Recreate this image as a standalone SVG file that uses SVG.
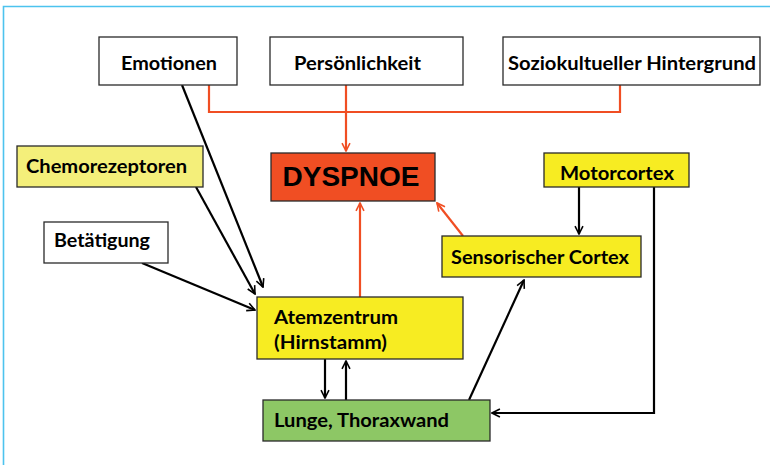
<svg xmlns="http://www.w3.org/2000/svg" width="770" height="465" viewBox="0 0 770 465">
<defs>
<style>
.box{stroke:#2a2a2a;stroke-width:1.3}
.w{fill:#ffffff}
.y{fill:#f7ec22}
.ly{fill:#f4ef7a}
.r{fill:#f04e23}
.g{fill:#8dc765}
.t{font-family:Lato,"Open Sans","Liberation Sans",sans-serif;font-weight:700;font-size:19.5px;fill:#000}
.big{font-family:"Liberation Sans",Arial,sans-serif;font-weight:700;font-size:28px;fill:#000}
.k{stroke:#000;stroke-width:2.2;fill:none}
.o{stroke:#f04e23;stroke-width:2.2;fill:none}
</style>
<marker id="ak" viewBox="0 0 10 10" refX="9" refY="5" markerWidth="4.5" markerHeight="4.5" orient="auto" markerUnits="strokeWidth">
<path d="M1,1 L9,5 L1,9" fill="none" stroke="#000" stroke-width="1.6"/>
</marker>
<marker id="ao" viewBox="0 0 10 10" refX="9" refY="5" markerWidth="4.5" markerHeight="4.5" orient="auto" markerUnits="strokeWidth">
<path d="M1,1 L9,5 L1,9" fill="none" stroke="#f04e23" stroke-width="1.6"/>
</marker>
</defs>
<rect x="0" y="0" width="770" height="465" fill="#ffffff"/>
<path d="M3.5,470 V6.5 H775" fill="none" stroke="#4dc3ee" stroke-width="1.6"/>

<g id="connectors">
<path class="o" d="M209,85 V112 H620 V85"/>
<path class="o" d="M346,85 V151" marker-end="url(#ao)"/>
<path class="o" d="M360,297 V203" marker-end="url(#ao)"/>
<path class="o" d="M463,236 L437,203" marker-end="url(#ao)"/>
<path class="k" d="M182,85 L263,287" marker-end="url(#ak)"/>
<path class="k" d="M196,187 L255,294" marker-end="url(#ak)"/>
<path class="k" d="M142,263 L255,310" marker-end="url(#ak)"/>
<path class="k" d="M579,187 V234" marker-end="url(#ak)"/>
<path class="k" d="M654,187 V413 H492" marker-end="url(#ak)"/>
<path class="k" d="M469,400 L524,280" marker-end="url(#ak)"/>
<path class="k" d="M325,359 V398" marker-end="url(#ak)"/>
<path class="k" d="M346,400 V361" marker-end="url(#ak)"/>
</g>

<g id="emotionen">
<rect class="box w" x="99" y="37" width="138" height="48"/>
<text class="t" x="121" y="70" textLength="96" lengthAdjust="spacingAndGlyphs">Emotionen</text>
</g>
<g id="persoenlichkeit">
<rect class="box w" x="270" y="37" width="193" height="48"/>
<text class="t" x="294" y="70" textLength="127" lengthAdjust="spacingAndGlyphs">Persönlichkeit</text>
</g>
<g id="soziokultur">
<rect class="box w" x="503" y="37" width="257" height="48"/>
<text class="t" x="508" y="70" textLength="248" lengthAdjust="spacingAndGlyphs">Soziokultueller Hintergrund</text>
</g>
<g id="chemorezeptoren">
<rect class="box ly" x="17" y="146" width="186" height="41"/>
<text class="t" x="26" y="173" textLength="161" lengthAdjust="spacingAndGlyphs">Chemorezeptoren</text>
</g>
<g id="betaetigung">
<rect class="box w" x="44" y="222" width="124" height="41"/>
<text class="t" x="54" y="247" textLength="96" lengthAdjust="spacingAndGlyphs">Betätigung</text>
</g>
<g id="dyspnoe">
<rect class="box r" x="271" y="153" width="164" height="48"/>
<text class="big" x="351" y="186" text-anchor="middle">DYSPNOE</text>
</g>
<g id="motorcortex">
<rect class="box y" x="544" y="153" width="145" height="34"/>
<text class="t" x="560" y="180" textLength="114" lengthAdjust="spacingAndGlyphs">Motorcortex</text>
</g>
<g id="sensorischer-cortex">
<rect class="box y" x="442" y="236" width="199" height="41"/>
<text class="t" x="451" y="264" textLength="178" lengthAdjust="spacingAndGlyphs">Sensorischer Cortex</text>
</g>
<g id="atemzentrum">
<rect class="box y" x="257" y="297" width="206" height="62"/>
<text class="t" x="274" y="324" textLength="124" lengthAdjust="spacingAndGlyphs">Atemzentrum</text>
<text class="t" x="274" y="349" textLength="113" lengthAdjust="spacingAndGlyphs">(Hirnstamm)</text>
</g>
<g id="lunge">
<rect class="box g" x="263" y="400" width="227" height="41"/>
<text class="t" x="274" y="427" textLength="175" lengthAdjust="spacingAndGlyphs">Lunge, Thoraxwand</text>
</g>
</svg>
